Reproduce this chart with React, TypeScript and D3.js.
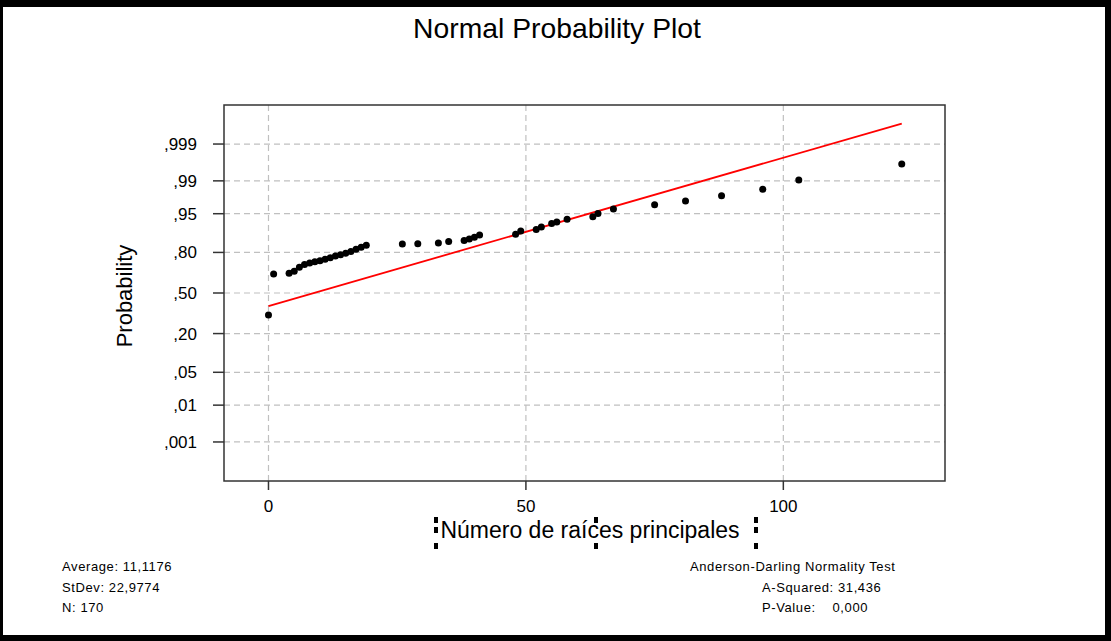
import React from "react";
import * as d3 from "d3";

// values
const xValues = [0, 1, 4, 5, 6, 7, 8, 9, 10, 11, 12, 13, 14, 15, 16, 17, 18, 19, 26, 29, 33, 35, 38, 39, 40, 41, 48, 49, 52, 53, 55, 56, 58, 63, 64, 67, 75, 81, 88, 96, 103, 123];
const probValues = [0.324, 0.6535, 0.659, 0.674, 0.703, 0.722, 0.733, 0.742, 0.749, 0.758, 0.767, 0.779, 0.787, 0.795, 0.805, 0.818, 0.829, 0.839, 0.8447, 0.8467, 0.8506, 0.857, 0.8615, 0.869, 0.8765, 0.886, 0.889, 0.9012, 0.9062, 0.9142, 0.9254, 0.9299, 0.9372, 0.9429, 0.9503, 0.9594, 0.9663, 0.972, 0.9781, 0.9844, 0.9904, 0.9963];

const lineX = [0, 123];
const lineProb = [0.3936, 0.99978];

const probTicks = [0.001, 0.01, 0.05, 0.2, 0.5, 0.8, 0.95, 0.99, 0.999];
const probLabels = [",001", ",01", ",05", ",20", ",50", ",80", ",95", ",99", ",999"];
const xTicks = [0, 50, 100];

const statsLeft = ["Average: 11,1176", "StDev: 22,9774", "N: 170"];
const statsRight = ["Anderson-Darling Normality Test", "A-Squared: 31,436", "P-Value:    0,000"];

// inverse of the standard normal CDF (Acklam)
function probit(p: number): number {
  const a = [-39.6968302866538, 220.946098424521, -275.928510446969, 138.357751867269, -30.6647980661472, 2.50662827745924];
  const b = [-54.4760987982241, 161.585836858041, -155.698979859887, 66.8013118877197, -13.2806815528857];
  const c = [-0.00778489400243029, -0.322396458041136, -2.40075827716184, -2.54973253934373, 4.37466414146497, 2.93816398269878];
  const d = [0.00778469570904146, 0.32246712907004, 2.445134137143, 3.75440866190742];
  const pl = 0.02425;
  let q, r;
  if (p < pl) {
    q = Math.sqrt(-2 * Math.log(p));
    return (((((c[0] * q + c[1]) * q + c[2]) * q + c[3]) * q + c[4]) * q + c[5]) / ((((d[0] * q + d[1]) * q + d[2]) * q + d[3]) * q + 1);
  }
  if (p > 1 - pl) {
    q = Math.sqrt(-2 * Math.log(1 - p));
    return -(((((c[0] * q + c[1]) * q + c[2]) * q + c[3]) * q + c[4]) * q + c[5]) / ((((d[0] * q + d[1]) * q + d[2]) * q + d[3]) * q + 1);
  }
  q = p - 0.5;
  r = q * q;
  return ((((((a[0] * r + a[1]) * r + a[2]) * r + a[3]) * r + a[4]) * r + a[5]) * q) / (((((b[0] * r + b[1]) * r + b[2]) * r + b[3]) * r + b[4]) * r + 1);
}

const W = 1111;
const H = 641;
const left = 224, right = 945, top = 105, bottom = 481;
const font = "'Liberation Sans', Arial, sans-serif";

export default function App() {
  const x = d3.scaleLinear().domain([-8.64, 131.4]).range([left, right]);
  const y = d3.scaleLinear().domain([-3.9, 3.9]).range([bottom, top]);

  const line = d3
    .line<number>()
    .x((d) => x(d))
    .y((d, i) => y(probit(lineProb[i])));

  const handles = [
    [436, 520], [596, 520], [756, 520],
    [436, 530], [756, 530],
    [436, 546], [596, 546], [756, 546],
  ];

  return (
    <svg width={W} height={H} style={{ position: "absolute", left: 0, top: 0, background: "#fff" }} fontFamily={font}>
      {/* outer frame */}
      <rect x={0} y={0} width={W} height={H} fill="#000" />
      <rect x={3} y={7} width={W - 9} height={H - 13} fill="#fff" />

      <text x={557} y={38} textAnchor="middle" fontSize={28.3} fill="#000">Normal Probability Plot</text>

      {/* grid */}
      {probTicks.map((p) => (
        <line key={"h" + p} x1={left} x2={right} y1={y(probit(p))} y2={y(probit(p))} stroke="#c0c0c0" strokeWidth={1.2} strokeDasharray="6,4" />
      ))}
      {xTicks.map((t) => (
        <line key={"v" + t} x1={x(t)} x2={x(t)} y1={top} y2={bottom} stroke="#c0c0c0" strokeWidth={1.2} strokeDasharray="6,4" />
      ))}

      <rect x={left} y={top} width={right - left} height={bottom - top} fill="none" stroke="#333" strokeWidth={1.5} />

      {/* y axis */}
      {probTicks.map((p, i) => (
        <g key={"yt" + p}>
          <line x1={left - 11} x2={left} y1={y(probit(p))} y2={y(probit(p))} stroke="#333" strokeWidth={1.5} />
          <text x={197} y={y(probit(p)) + 6} textAnchor="end" fontSize={17} fill="#000">{probLabels[i]}</text>
        </g>
      ))}
      <text transform={`translate(132,296) rotate(-90)`} textAnchor="middle" fontSize={22} fill="#000">Probability</text>

      {/* x axis */}
      {xTicks.map((t) => (
        <g key={"xt" + t}>
          <line x1={x(t)} x2={x(t)} y1={bottom} y2={bottom + 9} stroke="#333" strokeWidth={1.5} />
          <text x={x(t)} y={512} textAnchor="middle" fontSize={17} fill="#000">{t}</text>
        </g>
      ))}
      <text x={590} y={538} textAnchor="middle" fontSize={23} fill="#000">Número de raíces principales</text>
      {handles.map(([hx, hy], i) => (
        <rect key={"hd" + i} x={hx - 2} y={hy - 3} width={4} height={6} fill="#000" />
      ))}

      {/* fitted line */}
      <path d={line(lineX) || ""} fill="none" stroke="#ff0000" strokeWidth={1.8} />

      {/* points */}
      {xValues.map((v, i) => (
        <circle key={"pt" + i} cx={x(v)} cy={y(probit(probValues[i]))} r={3.5} fill="#000" />
      ))}

      {/* stats */}
      {statsLeft.map((s, i) => (
        <text key={"sl" + i} x={62} y={571 + i * 20.5} fontSize={13} letterSpacing={0.6} fill="#000">{s}</text>
      ))}
      <text x={690} y={571} fontSize={13} letterSpacing={0.6} fill="#000">{statsRight[0]}</text>
      <text x={762} y={591.5} fontSize={13} letterSpacing={0.6} fill="#000">{statsRight[1]}</text>
      <text x={762} y={612} fontSize={13} letterSpacing={0.6} fill="#000" style={{ whiteSpace: "pre" }}>{statsRight[2]}</text>
    </svg>
  );
}
